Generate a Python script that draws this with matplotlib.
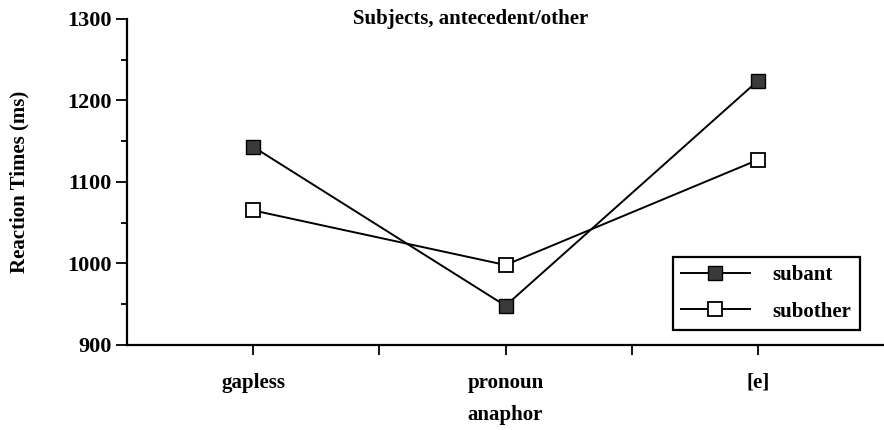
import matplotlib
matplotlib.use('Agg')
import matplotlib.pyplot as plt
from matplotlib.ticker import MultipleLocator, FixedLocator

# Data
categories = ['gapless', 'pronoun', '[e]']
subant = [1143, 948, 1224]
subother = [1065, 998, 1127]

plt.rcParams.update({
    'font.family': ['Liberation Serif', 'DejaVu Serif'],
    'font.weight': 'bold',
    'axes.spines.top': False,
    'axes.spines.right': False,
})

fig = plt.figure(figsize=(8.84, 4.30), dpi=100)
ax = fig.add_axes([0.1437, 0.198, 0.8563, 0.758])

x = list(range(len(categories)))

ax.plot(x, subant, color='black', linewidth=1.4, marker='s', markersize=9.5,
        markerfacecolor='#3a3a3a', markeredgecolor='black', markeredgewidth=1.0,
        label='subant')
ax.plot(x, subother, color='black', linewidth=1.4, marker='s', markersize=9.5,
        markerfacecolor='white', markeredgecolor='black', markeredgewidth=1.3,
        label='subother')

ax.set_xlim(-0.5, 2.5)
ax.set_ylim(900, 1300)
ax.yaxis.set_major_locator(MultipleLocator(100))
ax.yaxis.set_minor_locator(MultipleLocator(50))
ax.set_xticks(x)
ax.set_xticklabels(categories)
ax.xaxis.set_minor_locator(FixedLocator([0.5, 1.5]))

for s in ('left', 'bottom'):
    ax.spines[s].set_linewidth(1.6)
ax.tick_params(axis='y', which='major', length=8, width=1.3, labelsize=16, pad=3)
ax.tick_params(axis='y', which='minor', length=4, width=1.3)
ax.tick_params(axis='x', which='both', length=7, width=1.3, labelsize=15, pad=13)

ax.set_ylabel('Reaction Times (ms)', fontsize=15, fontweight='bold', labelpad=27)
ax.set_xlabel('anaphor', fontsize=15, fontweight='bold', labelpad=9)
fig.text(0.532, 0.955, 'Subjects, antecedent/other', ha='center', va='center',
         fontsize=15, fontweight='bold')

leg = ax.legend(loc='lower right', bbox_to_anchor=(0.968, 0.046), fontsize=15,
                handlelength=3.3, handletextpad=1.1, borderpad=0.4,
                labelspacing=0.8, fancybox=False, framealpha=1,
                edgecolor='black', borderaxespad=0)
leg.get_frame().set_linewidth(1.6)

fig.savefig('out.png', dpi=100)
